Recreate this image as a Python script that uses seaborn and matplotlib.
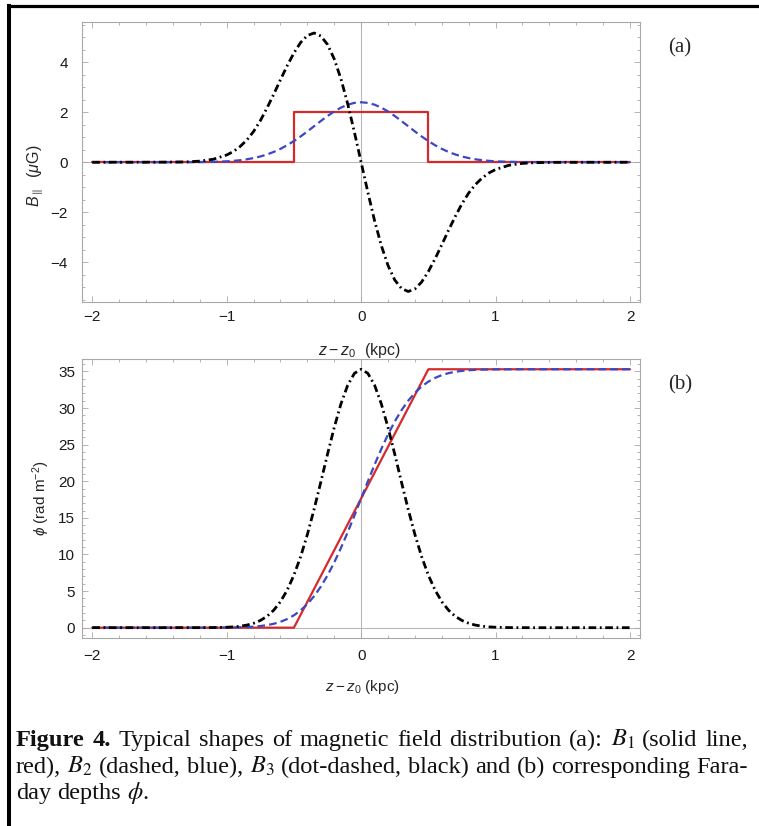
import matplotlib
matplotlib.use("Agg")
import matplotlib.pyplot as plt
import seaborn as sns
from matplotlib.ticker import MultipleLocator
from matplotlib.lines import Line2D

# ---------------- data ----------------
Z = [-2.0, -1.5, -1.3, -1.2, -1.1, -1.0, -0.95, -0.9, -0.85, -0.8, -0.75, -0.7,
     -0.65, -0.6, -0.55, -0.5, -0.45, -0.4, -0.35, -0.3, -0.25, -0.2, -0.15,
     -0.1, -0.05, 0.0, 0.05, 0.1, 0.15, 0.2, 0.25, 0.3, 0.35, 0.4, 0.45, 0.5,
     0.55, 0.6, 0.65, 0.7, 0.75, 0.8, 0.85, 0.9, 0.95, 1.0, 1.1, 1.2, 1.3, 1.5, 2.0]

B1_Z = [-2.0, -0.5, -0.5, 0.5, 0.5, 2.0]
B1_FIELD = [0.0, 0.0, 2.0, 2.0, 0.0, 0.0]

B2_FIELD = [0.0, 0.0, 0.002, 0.006, 0.016, 0.037, 0.056, 0.082, 0.118, 0.167,
            0.230, 0.312, 0.413, 0.536, 0.681, 0.847, 1.032, 1.232, 1.441, 1.649,
            1.850, 2.032, 2.185, 2.302, 2.375, 2.400, 2.375, 2.302, 2.185, 2.032,
            1.850, 1.649, 1.441, 1.232, 1.032, 0.847, 0.681, 0.536, 0.413, 0.312,
            0.230, 0.167, 0.118, 0.082, 0.056, 0.037, 0.016, 0.006, 0.002, 0.0, 0.0]

B3_FIELD = [0.0, 0.002, 0.015, 0.045, 0.12, 0.29, 0.43, 0.63, 0.89, 1.23, 1.66,
            2.17, 2.72, 3.30, 3.86, 4.37, 4.79, 5.07, 5.17, 5.05, 4.71, 4.13, 3.33,
            2.34, 1.20, 0.0, -1.20, -2.34, -3.33, -4.13, -4.71, -5.05, -5.17,
            -5.07, -4.79, -4.37, -3.86, -3.30, -2.72, -2.17, -1.66, -1.23, -0.89,
            -0.63, -0.43, -0.29, -0.12, -0.045, -0.015, -0.002, 0.0]

PHI1_Z = [-2.0, -0.5, 0.5, 2.0]
PHI1 = [0.0, 0.0, 35.3, 35.3]

PHI2 = [0.0, 0.0, 0.0, 0.001, 0.005, 0.015, 0.03, 0.05, 0.08, 0.14, 0.22, 0.35,
        0.53, 0.80, 1.18, 1.69, 2.36, 3.22, 4.30, 5.60, 7.14, 8.91, 10.89, 13.04,
        15.31, 17.65, 19.99, 22.26, 24.41, 26.39, 28.16, 29.70, 31.00, 32.08,
        32.94, 33.61, 34.12, 34.50, 34.77, 34.95, 35.08, 35.16, 35.22, 35.25,
        35.27, 35.285, 35.295, 35.3, 35.3, 35.3, 35.3]

PHI3 = [0.0, 0.0, 0.0, 0.004, 0.015, 0.06, 0.11, 0.20, 0.35, 0.60, 0.98, 1.55,
        2.39, 3.55, 5.13, 7.17, 9.70, 12.72, 16.16, 19.88, 23.70, 27.35, 30.58,
        33.12, 34.74, 35.30, 34.74, 33.12, 30.58, 27.35, 23.70, 19.88, 16.16,
        12.72, 9.70, 7.17, 5.13, 3.55, 2.39, 1.55, 0.98, 0.60, 0.35, 0.20, 0.11,
        0.06, 0.015, 0.004, 0.0, 0.0, 0.0]

X_TICKS = [-2, -1, 0, 1, 2]
YA_TICKS = [-4, -2, 0, 2, 4]
YB_TICKS = [0, 5, 10, 15, 20, 25, 30, 35]

CAPTION_LINES = [
    "Figure 4. Typical shapes of magnetic field distribution (a): $B_1$ (solid line,",
    "red), $B_2$ (dashed, blue), $B_3$ (dot-dashed, black) and (b) corresponding Fara-",
    "day depths $\\phi$.",
]

# ---------------- style ----------------
sns.set_style("ticks")
plt.rcParams["font.family"] = ["Liberation Sans", "DejaVu Sans"]
plt.rcParams["mathtext.fontset"] = "custom"
plt.rcParams["mathtext.rm"] = "Liberation Sans"
plt.rcParams["mathtext.it"] = "Liberation Sans:italic"
plt.rcParams["mathtext.bf"] = "Liberation Sans:bold"
plt.rcParams["lines.scale_dashes"] = False

RED = "#d62a2a"
BLUE = "#3a48c4"
BLACK = "#000000"
GRAY = "#a8a8a8"

W, H = 759, 826
fig = plt.figure(figsize=(W / 100, H / 100), dpi=100)


def ax_at(l, t, r, b):
    return fig.add_axes([l / W, 1 - b / H, (r - l) / W, (b - t) / H])


axa = ax_at(82, 22, 640, 302)
axb = ax_at(82, 359, 640, 638)


def style(ax, ylim, ymaj, ymin, ypad, xpad):
    ax.set_xlim(-2.076, 2.074)
    ax.set_ylim(*ylim)
    ax.set_xticks(X_TICKS)
    ax.xaxis.set_minor_locator(MultipleLocator(0.2))
    ax.set_yticks(ymaj)
    ax.yaxis.set_minor_locator(MultipleLocator(ymin))
    for s in ax.spines.values():
        s.set_color(GRAY)
        s.set_linewidth(0.8)
    ax.tick_params(which="both", direction="in", top=True, right=True,
                   color=GRAY, width=0.6, labelsize=11, labelcolor="#1a1a1a")
    ax.tick_params(which="major", length=4.5)
    ax.tick_params(which="minor", length=2.5)
    ax.tick_params(axis="y", which="both", pad=ypad)
    ax.tick_params(axis="x", which="both", pad=xpad)
    ax.axhline(0, color="#b8b8b8", lw=0.8, zorder=0)
    ax.axvline(0, color="#b8b8b8", lw=0.8, zorder=0)


style(axa, (-5.59, 5.61), YA_TICKS, 0.5, 10, 6)
style(axb, (-1.41, 36.7), YB_TICKS, 1, 5, 8)

common = dict(estimator=None, sort=False, legend=False)
DASH = (0, (5.5, 3.0))
DASHDOT = (0, (5.5, 2.6, 1.3, 2.6))

# panel (a)
sns.lineplot(x=B1_Z, y=B1_FIELD, ax=axa, color=RED, lw=1.6, zorder=3, **common)
sns.lineplot(x=Z, y=B2_FIELD, ax=axa, color=BLUE, lw=1.6, linestyle=DASH, zorder=4, **common)
sns.lineplot(x=Z, y=B3_FIELD, ax=axa, color=BLACK, lw=2.0, linestyle=DASHDOT, zorder=5, **common)

# panel (b)
sns.lineplot(x=PHI1_Z, y=PHI1, ax=axb, color=RED, lw=1.6, zorder=3, **common)
sns.lineplot(x=Z, y=PHI2, ax=axb, color=BLUE, lw=1.6, linestyle=DASH, zorder=4, **common)
sns.lineplot(x=Z, y=PHI3, ax=axb, color=BLACK, lw=2.0, linestyle=DASHDOT, zorder=5, **common)

# axis labels
axa.set_xlabel(r"$z-z_0$  (kpc)", fontsize=11.5)
axa.xaxis.set_label_coords(0.497, -0.175)
axa.xaxis.label.set_va("center")
axa.set_ylabel(r"$B_{\parallel}$  ($\mu$G)", fontsize=11.5)
axa.yaxis.set_label_coords(-0.084, 0.45)
axa.yaxis.label.set_va("center")

axb.set_xlabel(r"$z-z_0$ (kpc)", fontsize=11)
axb.xaxis.set_label_coords(0.503, -0.176)
axb.xaxis.label.set_va("center")
axb.set_ylabel(r"$\phi$ (rad m$^{-2}$)", fontsize=11)
axb.yaxis.set_label_coords(-0.074, 0.5)
axb.yaxis.label.set_va("center")

# panel tags
fig.text(680 / W, 1 - 48 / H, "(a)", family="Liberation Serif", fontsize=15,
         ha="center", va="center")
fig.text(680 / W, 1 - 385 / H, "(b)", family="Liberation Serif", fontsize=15,
         ha="center", va="center")

# caption, justified like the printed figure
CAP_FS = 17.6
X0, X1 = 16, 748
BASELINES = [746, 773, 799]
renderer = fig.canvas.get_renderer()
for li, line in enumerate(CAPTION_LINES):
    words = line.split(" ")
    arts = []
    for wi, w in enumerate(words):
        bold = (li == 0 and wi < 2)
        t = fig.text(0, 1 - BASELINES[li] / H, w, fontsize=CAP_FS,
                     family="Liberation Serif", weight="bold" if bold else "normal",
                     math_fontfamily="stix", ha="left", va="baseline", color="#111111")
        arts.append(t)
    widths = [a.get_window_extent(renderer).width for a in arts]
    if li < len(CAPTION_LINES) - 1:
        gap = (X1 - X0 - sum(widths)) / (len(words) - 1)
    else:
        gap = CAP_FS * 100 / 72 * 0.25
    x = X0
    for a, w in zip(arts, widths):
        a.set_x(x / W)
        x += w + gap

# frame lines of the scanned figure
fig.add_artist(Line2D([8.7 / W, 8.7 / W], [0, 1 - 5.5 / H], color="black", lw=2.9,
                      transform=fig.transFigure, solid_capstyle="projecting"))
fig.add_artist(Line2D([8.7 / W, 1], [1 - 5.5 / H, 1 - 5.5 / H], color="black", lw=2.3,
                      transform=fig.transFigure, solid_capstyle="projecting"))

fig.savefig("out.png", dpi=100)
